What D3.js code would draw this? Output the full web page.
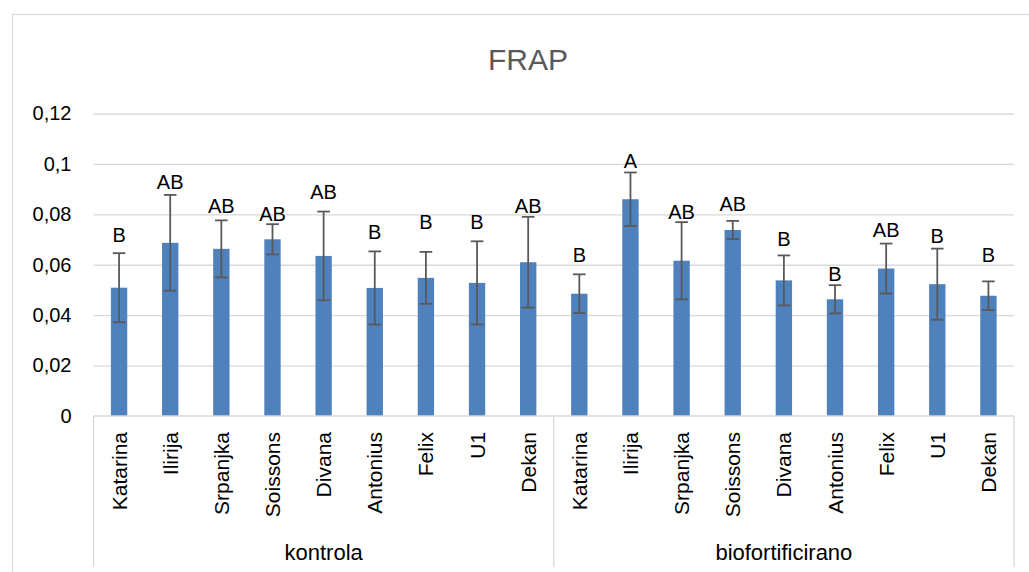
<!DOCTYPE html>
<html>
<head>
<meta charset="utf-8">
<script src="https://cdn.jsdelivr.net/npm/d3@7/dist/d3.min.js"></script>
<style>
  html, body { margin: 0; padding: 0; background: #fff; }
  svg { display: block; font-family: "Liberation Sans", Arial, sans-serif; }
</style>
</head>
<body>
<svg id="chart" width="1029" height="572"></svg>
<script>
// ---- data ----
const groups = ["kontrola", "biofortificirano"];
const cultivars = ["Katarina", "Ilirija", "Srpanjka", "Soissons", "Divana", "Antonius", "Felix", "U1", "Dekan"];
const kontrolaValues = [0.0509, 0.0687, 0.0663, 0.0701, 0.0635, 0.0508, 0.0548, 0.0528, 0.0610];
const kontrolaErrors = [0.0137, 0.0190, 0.0113, 0.0060, 0.0176, 0.0145, 0.0103, 0.0165, 0.0180];
const bioValues = [0.0485, 0.0860, 0.0616, 0.0738, 0.0538, 0.0463, 0.0585, 0.0523, 0.0477];
const bioErrors = [0.0077, 0.0106, 0.0153, 0.0036, 0.0099, 0.0056, 0.0099, 0.0141, 0.0057];
const kontrolaLetters = ["B", "AB", "AB", "AB", "AB", "B", "B", "B", "AB"];
const bioLetters = ["B", "A", "AB", "AB", "B", "B", "AB", "B", "B"];
// value at which each letter label sits (baseline)
const kontrolaLetterAt = [0.0692, 0.0901, 0.0806, 0.0774, 0.0861, 0.0701, 0.0742, 0.0742, 0.0806];
const bioLetterAt = [0.0612, 0.0983, 0.0782, 0.0813, 0.0675, 0.0536, 0.0711, 0.0688, 0.0612];
const yTicks = [0, 0.02, 0.04, 0.06, 0.08, 0.10, 0.12];

// ---- build rows ----
const rows = [];
[[kontrolaValues, kontrolaErrors, kontrolaLetters, kontrolaLetterAt],
 [bioValues, bioErrors, bioLetters, bioLetterAt]].forEach((g, gi) => {
  cultivars.forEach((c, i) => {
    rows.push({ key: gi + "-" + i, group: groups[gi], name: c,
      value: g[0][i], err: g[1][i], letter: g[2][i], letterAt: g[3][i] });
  });
});

// ---- layout ----
const svg = d3.select("#chart");
const mLeft = 93.5, mRight = 1014, mTop = 113.5, mBottom = 416;

// chart frame
svg.append("rect").attr("x", 12.5).attr("y", 14.5).attr("width", 1040).attr("height", 600)
  .attr("fill", "none").attr("stroke", "#d9d9d9").attr("stroke-width", 1.2);

const x = d3.scaleBand().domain(rows.map(d => d.key)).range([mLeft, mRight]).padding(0);
const y = d3.scaleLinear().domain([0, 0.12]).range([mBottom, mTop]);
const barW = x.bandwidth() * 0.32;
const fmt = v => v === 0 ? "0" : d3.format(".2~f")(v).replace(".", ",");

// gridlines
const grid = svg.append("g").attr("transform", `translate(${mLeft},0)`)
  .call(d3.axisLeft(y).tickValues(yTicks.filter(t => t > 0)).tickSize(-(mRight - mLeft)).tickFormat(""));
grid.select(".domain").remove();
grid.selectAll("line").attr("stroke", "#d9d9d9").attr("stroke-width", 1.3);

// y axis labels
const yAx = svg.append("g").attr("transform", `translate(${mLeft},0)`)
  .call(d3.axisLeft(y).tickValues(yTicks).tickSize(0).tickPadding(22).tickFormat(fmt));
yAx.select(".domain").remove();
yAx.selectAll("text").attr("font-size", 20).attr("fill", "#000")
  .attr("font-family", "Liberation Sans, Arial, sans-serif");

// bars
svg.append("g").selectAll("rect").data(rows).join("rect")
  .attr("x", d => x(d.key) + x.bandwidth() / 2 - barW / 2)
  .attr("width", barW)
  .attr("y", d => y(d.value))
  .attr("height", d => y(0) - y(d.value))
  .attr("fill", "#4f81bd");

// error bars
const eb = svg.append("g").attr("stroke", "#595959").attr("stroke-width", 1.8);
rows.forEach(d => {
  const cx = x(d.key) + x.bandwidth() / 2;
  const y1 = y(d.value + d.err), y0 = y(d.value - d.err);
  eb.append("line").attr("x1", cx).attr("x2", cx).attr("y1", y1).attr("y2", y0);
  eb.append("line").attr("x1", cx - 6.3).attr("x2", cx + 6.3).attr("y1", y1).attr("y2", y1);
  eb.append("line").attr("x1", cx - 6.3).attr("x2", cx + 6.3).attr("y1", y0).attr("y2", y0);
});

// letter labels
svg.append("g").selectAll("text").data(rows).join("text")
  .attr("x", d => x(d.key) + x.bandwidth() / 2)
  .attr("y", d => y(d.letterAt))
  .attr("text-anchor", "middle")
  .attr("font-size", 20)
  .attr("fill", "#000")
  .text(d => d.letter);

// category axis lines
const ax = svg.append("g").attr("stroke", "#d9d9d9").attr("stroke-width", 1.3);
ax.append("line").attr("x1", mLeft).attr("x2", mRight).attr("y1", mBottom).attr("y2", mBottom);
const sepX = [mLeft, x(rows[cultivars.length].key), mRight];
sepX.forEach(sx => ax.append("line").attr("x1", sx).attr("x2", sx).attr("y1", mBottom).attr("y2", 567));

// category labels (rotated)
svg.append("g").selectAll("text").data(rows).join("text")
  .attr("transform", d => `translate(${x(d.key) + x.bandwidth() / 2},432) rotate(-90)`)
  .attr("text-anchor", "end")
  .attr("dominant-baseline", "central")
  .attr("font-size", 21)
  .attr("fill", "#000")
  .text(d => d.name);

// group labels
groups.forEach((g, gi) => {
  const a = sepX[gi], b = sepX[gi + 1];
  svg.append("text").attr("x", (a + b) / 2).attr("y", 560)
    .attr("text-anchor", "middle").attr("font-size", 22).attr("fill", "#000").text(g);
});

// title
svg.append("text").attr("x", 528).attr("y", 70).attr("text-anchor", "middle")
  .attr("font-size", 30).attr("fill", "#595959").text("FRAP");
</script>
</body>
</html>
